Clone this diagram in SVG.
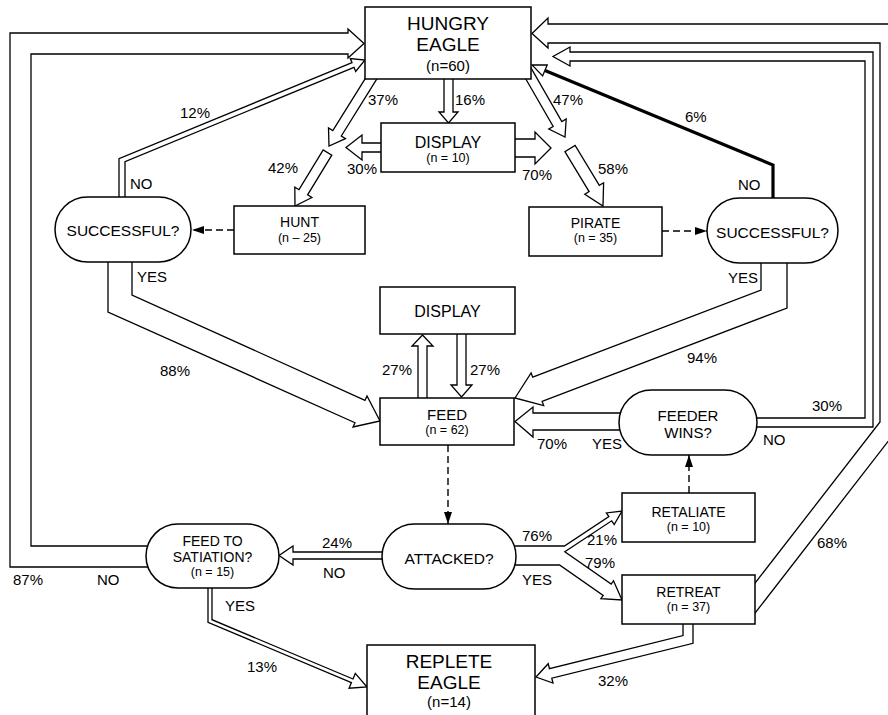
<svg xmlns="http://www.w3.org/2000/svg" width="888" height="715" viewBox="0 0 888 715">
<defs>
<style>
.a{fill:#fff;stroke:#000;stroke-width:1.3;stroke-linejoin:miter}
.k{fill:none;stroke:#000;stroke-width:3.2;stroke-linejoin:miter}
.d{fill:none;stroke:#000;stroke-width:1.4;stroke-dasharray:7 4;marker-end:url(#ah)}
.b{fill:#fff;stroke:#000;stroke-width:1.5}
text{font-family:"Liberation Sans",Arial,sans-serif;fill:#000;text-anchor:middle}
.L{font-size:19px}
.M{font-size:15px}
.m{font-size:14px}
.s{font-size:12.5px}
.p{font-size:15px;text-anchor:start}
</style>
<marker id="ah" viewBox="0 0 12 8" refX="12" refY="4" markerWidth="12" markerHeight="8" markerUnits="userSpaceOnUse" orient="auto">
<path d="M0,0 L12,4 L0,8 Z" fill="#000"/>
</marker>
</defs>
<rect width="888" height="715" fill="#fff"/>

<g id="connectors">
<!-- 16% -->
<polygon class="a" points="444,75 444,112 439,112 448.5,123 458,112 453,112 453,75"/>
<!-- 37% -->
<polygon class="a" points="367.1,75.6 332.8,130.6 328.5,128 329,146 345.5,138.6 341.3,136 378.9,75.6"/>
<!-- 42% -->
<polygon class="a" points="323.2,149.9 299,189.7 294.8,187.1 295,206 311.9,197.5 307.6,194.9 331.8,155.1"/>
<!-- 47% -->
<polygon class="a" points="523.8,75.5 553.2,126.5 548.8,129 565,137 566.2,119 561.8,121.5 529,64.5"/>
<!-- 58% -->
<polygon class="a" points="564.9,151.6 589.1,191.6 584.8,194.2 603,206 603.6,182.8 599.3,185.4 575.1,145.4"/>
<!-- 30% display left -->
<polygon class="a" points="384,143 362,143 362,135 346,147.5 362,160 362,152 384,152"/>
<!-- 70% display right -->
<polygon class="a" points="512,139 535,139 535,132 551,148 535,164 535,157 512,157"/>
<!-- 87% -->
<polygon class="a" points="156,546 31,546 31,54 348,54 348,58 364,43.5 348,29 348,33 10,33 10,567 156,567"/>
<!-- 12% -->
<polygon class="a" points="119,203 119,158.7 352,62.7 350.3,58.5 365,60 355.7,71.5 354,67.3 125,161.6 125,203"/>
<!-- 88% -->
<polygon class="a" points="132,255 132,295 365,400.3 367,396 380,421 353,427 355,422.7 108,312 108,255"/>
<!-- 94% -->
<polygon class="a" points="761,256 761,290 532.7,377.2 531.1,373 515,398 543.7,405.6 542.1,401.4 787,308 787,256"/>
<!-- 6% -->
<polyline class="k" points="773,203 773,165 545,70.5"/>
<polygon class="a" points="547.2,64.9 532,65 542.6,75.9"/>
<!-- 27% up -->
<polygon class="a" points="418,401 418,346 412,346 422.5,335 433,346 427,346 427,401"/>
<!-- 27% down -->
<polygon class="a" points="457,331 457,385 451,385 461.5,397 472,385 466,385 466,331"/>
<!-- 70% YES -->
<polygon class="a" points="628,413 533,413 533,407 515,421.5 533,437 533,430 628,430"/>
<!-- 30% NO feeder -->
<polygon class="a" points="750,418 865,418 865,61 570,61 570,66 553,56.5 570,47 570,52 873,52 873,427 750,427"/>
<!-- 68% -->
<polygon class="a" points="752,587 880,422 880,43 548,43 548,48 532,33.5 548,18 548,24 900,24 900,426 752,617"/>
<!-- 24% NO -->
<polygon class="a" points="388,552 293,552 293,546 279,555.5 293,565 293,559 388,559"/>
<!-- 76% fork -->
<polygon class="a" points="505,546 564.4,546 608.9,516.6 606.4,512.9 622,511 614.2,524.5 611.7,520.8 564.8,551.8 611.2,584 613.5,580.7 622,600 600.9,598.7 603.2,595.4 559.5,565 505,565"/>
<!-- 32% -->
<polygon class="a" points="683,620 683,635.6 549.4,668.6 548.2,663.7 536,677 553,683.1 551.8,678.2 693,643.3 693,620"/>
<!-- 13% -->
<polygon class="a" points="208,584 208,622.3 351.4,682.6 349.1,688.2 367,687 355.3,673.4 353,679 212,619.7 212,584"/>
<!-- dashed -->
<line class="d" x1="234" y1="230" x2="192" y2="230"/>
<line class="d" x1="662" y1="231" x2="707" y2="231"/>
<line class="d" x1="448" y1="445" x2="448" y2="524"/>
<line class="d" x1="689" y1="493" x2="689" y2="455"/>
</g>

<g id="hungry-eagle">
<rect class="b" x="365" y="7" width="166" height="72"/>
<text class="L" x="448" y="29.5">HUNGRY</text>
<text class="L" x="448" y="51">EAGLE</text>
<text class="M" x="448" y="71">(n=60)</text>
</g>
<g id="display-top">
<rect class="b" x="381" y="123" width="134" height="49"/>
<text class="M" x="448" y="148" style="font-size:16px">DISPLAY</text>
<text class="s" x="448" y="162">(n = 10)</text>
</g>
<g id="hunt">
<rect class="b" x="234" y="206" width="131" height="48"/>
<text class="m" x="299.5" y="227">HUNT</text>
<text class="s" x="299.5" y="242">(n – 25)</text>
</g>
<g id="pirate">
<rect class="b" x="529" y="207" width="133" height="49"/>
<text class="m" x="595.5" y="227.5">PIRATE</text>
<text class="s" x="595.5" y="242">(n = 35)</text>
</g>
<g id="successful-left">
<rect class="b" x="55" y="197" width="136" height="65" rx="32.5" ry="32.5"/>
<text class="M" x="123" y="236" style="font-size:15.5px">SUCCESSFUL?</text>
</g>
<g id="successful-right">
<rect class="b" x="707" y="198" width="131" height="65" rx="32.5" ry="32.5"/>
<text class="M" x="772.5" y="238" style="font-size:15.5px">SUCCESSFUL?</text>
</g>
<g id="display-mid">
<rect class="b" x="380" y="287" width="135" height="47"/>
<text class="M" x="447.5" y="317" style="font-size:16px">DISPLAY</text>
</g>
<g id="feed">
<rect class="b" x="380" y="398" width="134" height="47"/>
<text class="M" x="447" y="420">FEED</text>
<text class="s" x="447" y="434">(n = 62)</text>
</g>
<g id="feeder-wins">
<rect class="b" x="619" y="390" width="138" height="65" rx="32.5" ry="32.5"/>
<text class="M" x="688" y="421">FEEDER</text>
<text class="M" x="688" y="438">WINS?</text>
</g>
<g id="retaliate">
<rect class="b" x="622" y="493" width="133" height="49"/>
<text class="m" x="688.5" y="517">RETALIATE</text>
<text class="s" x="688.5" y="531">(n = 10)</text>
</g>
<g id="retreat">
<rect class="b" x="622" y="575" width="133" height="49"/>
<text class="m" x="688.5" y="597">RETREAT</text>
<text class="s" x="688.5" y="611">(n = 37)</text>
</g>
<g id="attacked">
<rect class="b" x="382" y="524" width="134" height="65" rx="32.5" ry="32.5"/>
<text class="M" x="449" y="564" style="font-size:15.5px">ATTACKED?</text>
</g>
<g id="feed-to-satiation">
<rect class="b" x="146" y="524" width="133" height="64" rx="32" ry="32"/>
<text class="m" x="212.5" y="546">FEED TO</text>
<text class="m" x="212.5" y="562">SATIATION?</text>
<text class="s" x="212.5" y="576">(n = 15)</text>
</g>
<g id="replete-eagle">
<rect class="b" x="367" y="645" width="168" height="90"/>
<text class="L" x="449" y="668">REPLETE</text>
<text class="L" x="449" y="689">EAGLE</text>
<text class="M" x="449" y="707">(n=14)</text>
</g>

<g id="labels">
<text class="p" x="368" y="105">37%</text>
<text class="p" x="455" y="105">16%</text>
<text class="p" x="553" y="105">47%</text>
<text class="p" x="347" y="174">30%</text>
<text class="p" x="522" y="180">70%</text>
<text class="p" x="268" y="173">42%</text>
<text class="p" x="598" y="174">58%</text>
<text class="p" x="180" y="118">12%</text>
<text class="p" x="685" y="122">6%</text>
<text class="p" x="130" y="189">NO</text>
<text class="p" x="137" y="282">YES</text>
<text class="p" x="738" y="190">NO</text>
<text class="p" x="728" y="283">YES</text>
<text class="p" x="160" y="376">88%</text>
<text class="p" x="687" y="363">94%</text>
<text class="p" x="382" y="375">27%</text>
<text class="p" x="470" y="375">27%</text>
<text class="p" x="537" y="449">70%</text>
<text class="p" x="592" y="449">YES</text>
<text class="p" x="812" y="411">30%</text>
<text class="p" x="763" y="445">NO</text>
<text class="p" x="322" y="548">24%</text>
<text class="p" x="323" y="578">NO</text>
<text class="p" x="13" y="585">87%</text>
<text class="p" x="97" y="585">NO</text>
<text class="p" x="225" y="611">YES</text>
<text class="p" x="247" y="672">13%</text>
<text class="p" x="522" y="541">76%</text>
<text class="p" x="587" y="545">21%</text>
<text class="p" x="585" y="568">79%</text>
<text class="p" x="522" y="585">YES</text>
<text class="p" x="598" y="686">32%</text>
<text class="p" x="817" y="548">68%</text>
</g>
</svg>
